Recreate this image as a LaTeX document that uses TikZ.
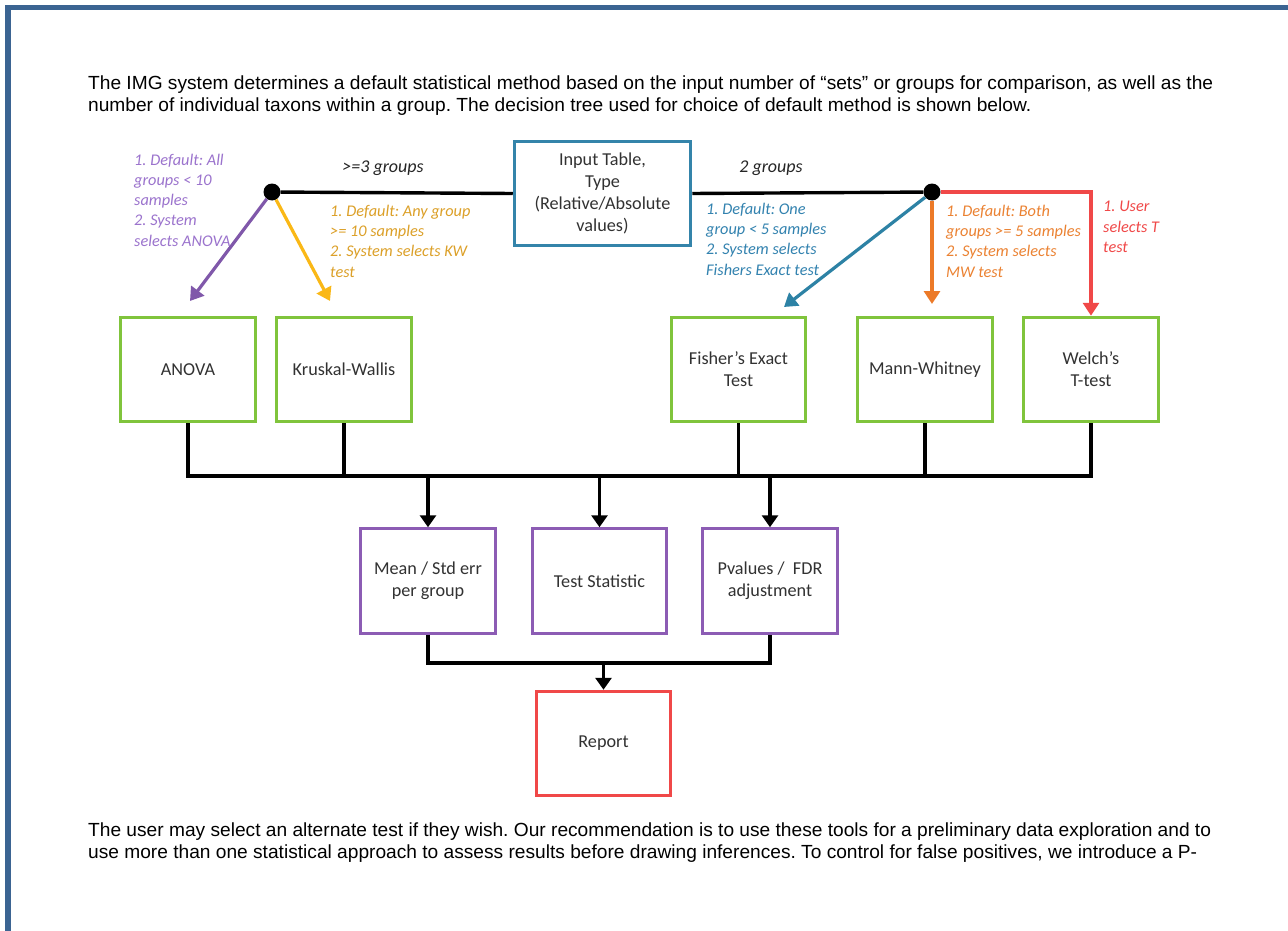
\documentclass[tikz,border=0pt]{standalone}
\usepackage{fontspec}
\setmainfont{Carlito}
\newfontfamily\bodyf{Liberation Sans}
\usetikzlibrary{arrows.meta}
\definecolor{framec}{RGB}{59,100,146}
\definecolor{txt}{RGB}{50,50,50}
\definecolor{inblue}{RGB}{52,132,170}
\definecolor{grn}{RGB}{128,196,60}
\definecolor{pbox}{RGB}{140,92,180}
\definecolor{parrc}{RGB}{128,88,170}
\definecolor{ptxt}{RGB}{155,115,205}
\definecolor{garrc}{RGB}{250,184,22}
\definecolor{gtxt}{RGB}{220,160,40}
\definecolor{barrc}{RGB}{45,130,165}
\definecolor{btxt}{RGB}{50,130,175}
\definecolor{oarrc}{RGB}{236,122,40}
\definecolor{otxt}{RGB}{235,130,50}
\definecolor{redc}{RGB}{240,72,72}
\newcommand\txtA{The IMG system determines a default statistical method based on the input number of “sets” or groups for comparison, as well as the}
\newcommand\txtB{number of individual taxons within a group. The decision tree used for choice of default method is shown below.}
\newcommand\txtC{The user may select an alternate test if they wish. Our recommendation is to use these tools for a preliminary data exploration and to}
\newcommand\txtD{use more than one statistical approach to assess results before drawing inferences. To control for false positives, we introduce a P-}
\newsavebox\measbox
\newlength\measlen
\frenchspacing
\begin{document}
\savebox\measbox{\bodyf\fontsize{19}{22}\selectfont\txtA}%
\setlength\measlen{\wd\measbox}%
\pgfmathsetmacro\bsx{1125/\measlen}%
\begin{tikzpicture}[x=1pt,y=-1pt,
  bx/.style={draw, line width=3pt, minimum width=134.5pt, minimum height=104.5pt, align=center,
    font=\fontsize{18.2}{22}\selectfont, text=txt, inner sep=0pt},
  gbox/.style={bx, draw=grn},
  pbx/.style={bx, draw=pbox},
  lab/.style={font=\fontsize{16.3}{20.3}\selectfont\itshape, align=left, anchor=west, inner sep=0pt},
  grp/.style={font=\fontsize{18}{20}\selectfont\itshape, text=black!85, inner sep=0pt},
  blk/.style={line width=3.4pt, black},
  blka/.style={blk, -{Triangle[length=12pt,width=16pt]}},
  carr/.style={line width=3.2pt, -{Triangle[length=13pt,width=16pt]}},
  dot/.style={circle, fill=black, minimum size=17pt, inner sep=0pt},
  bodytext/.style={font=\bodyf\fontsize{19}{22}\selectfont, text=black, inner sep=0pt, anchor=north west}
]
\useasboundingbox (0,0) rectangle (1288,931);
\fill[white] (0,0) rectangle (1288,931);
\draw[framec, line width=5.5pt] (8,931) |- (1288,7.5);

% body text
\node[bodytext] (para1) at (88,74) {\scalebox{\bsx}[1]{\begin{tabular}{@{}l@{}}\txtA\\\txtB\end{tabular}}};
\node[bodytext] (para2) at (88,821) {\scalebox{\bsx}[1]{\begin{tabular}{@{}l@{}}\txtC\\\txtD\end{tabular}}};

% input box
\node[bx, draw=inblue, minimum width=176.5pt] (input) at (602.5,193.5) {Input Table,\\Type\\(Relative/Absolute\\values)};

% dots
\node[dot] (ldot) at (272,192) {};
\node[dot] (rdot) at (932,192) {};
\draw[blk] (ldot) -- (input.west);
\draw[blk] (input.east) -- (rdot);

\node[grp] (g3) at (383,168) {>=3 groups};
\node[grp] (g2) at (771,168) {2 groups};

% test boxes
\node[gbox] (anova) at (188,369.5) {ANOVA};
\node[gbox] (kw) at (344,369.5) {Kruskal-Wallis};
\node[gbox] (fisher) at (738.5,369.5) {Fisher’s Exact\\Test};
\node[gbox] (mw) at (925,369.5) {Mann-Whitney};
\node[gbox] (welch) at (1091,369.5) {Welch’s\\T-test};

% decision arrows
\coordinate (pend) at (190,301);
\coordinate (gend) at (330,301);
\coordinate (bend) at (784,307);
\coordinate (oend) at (932,304);
\draw[carr, parrc] (ldot) -- (pend);
\draw[carr, garrc] (ldot) -- (gend);
\draw[carr, barrc] (rdot) -- (bend);
\draw[carr, oarrc] (rdot) -- (oend);
\draw[carr, redc] (rdot) -- (rdot -| welch.north) -- (welch.north);

% decision labels
\node[lab, text=ptxt] (lp) at (134,200) {1. Default: All\\groups < 10\\samples\\2. System\\selects ANOVA};
\node[lab, text=gtxt] (lg) at (330,241) {1. Default: Any group\\>= 10 samples\\2. System selects KW\\test};
\node[lab, text=btxt] (lb) at (706,239) {1. Default: One\\group < 5 samples\\2. System selects\\Fishers Exact test};
\node[lab, text=otxt] (lo) at (946,241) {1. Default: Both\\groups >= 5 samples\\2. System selects\\MW test};
\node[lab, text=redc] (lr) at (1103,227) {1. User\\selects T\\test};

% result boxes
\node[pbx] (mean) at (428,581) {Mean / Std err\\per group};
\node[pbx] (stat) at (599.5,581) {Test Statistic};
\node[pbx] (pval) at (770,581) {Pvalues /\ \ FDR\\adjustment};
\node[bx, draw=redc] (report) at (603.5,743.5) {Report};

% bus
\coordinate (bus) at (188,476);
\draw[blk] (anova.south) |- (welch.south |- bus) -- (welch.south);
\draw[blk] (kw.south) -- (kw.south |- bus);
\draw[blk] (fisher.south) -- (fisher.south |- bus);
\draw[blk] (mw.south) -- (mw.south |- bus);
\draw[blka] (mean.north |- bus) -- (mean.north);
\draw[blka] (stat.north |- bus) -- (stat.north);
\draw[blka] (pval.north |- bus) -- (pval.north);

\coordinate (bus2) at (603,663);
\draw[blk] (mean.south) |- (pval.south |- bus2) -- (pval.south);
\draw[blka] (report.north |- bus2) -- (report.north);
\end{tikzpicture}
\end{document}
